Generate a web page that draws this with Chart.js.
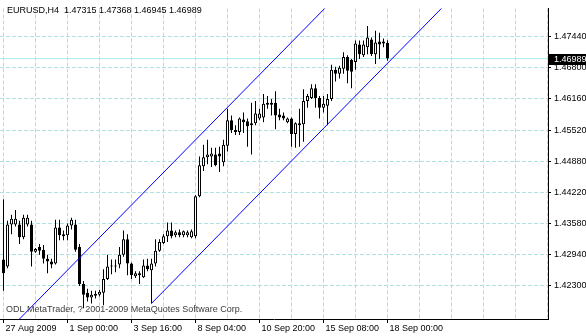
<!DOCTYPE html>
<html>
<head>
<meta charset="utf-8">
<script src="https://cdn.jsdelivr.net/npm/chart.js@4.4.0/dist/chart.umd.min.js"></script>
<style>
  html, body { margin: 0; padding: 0; background: #fff; }
  canvas { display: block; }
</style>
</head>
<body>
<canvas id="c" width="586" height="336"></canvas>
<script>
// EURUSD H4, one value per bar
const opens = [
  1.4286, 1.4272, 1.4358, 1.4358, 1.4358, 1.4332, 1.4358, 1.4358, 1.4302, 1.4312,
  1.4306, 1.4288, 1.4282, 1.4278, 1.4352, 1.4338, 1.4336, 1.4356, 1.4358, 1.4312,
  1.4236, 1.4218, 1.4208, 1.4216, 1.4214, 1.4218, 1.4246, 1.4274, 1.4272, 1.4276,
  1.4296, 1.4328, 1.4278, 1.4252, 1.4258, 1.4250, 1.4274, 1.4264, 1.4278, 1.4304,
  1.4320, 1.4334, 1.4346, 1.4336, 1.4342, 1.4336, 1.4336, 1.4332, 1.4334, 1.4416,
  1.4478, 1.4496, 1.4498, 1.4502, 1.4504, 1.4486, 1.4520, 1.4572, 1.4552, 1.4548,
  1.4574, 1.4570, 1.4566, 1.4566, 1.4576, 1.4578, 1.4604, 1.4608, 1.4608, 1.4584,
  1.4582, 1.4568, 1.4576, 1.4544, 1.4562, 1.4564, 1.4612, 1.4618, 1.4638, 1.4618,
  1.4598, 1.4602, 1.4616, 1.4676, 1.4668, 1.4678, 1.4702, 1.4696, 1.4692, 1.4728,
  1.4706, 1.4722, 1.4738, 1.4708, 1.4734, 1.4734, 1.47315
];
const highs = [
  1.4410, 1.4366, 1.4378, 1.4388, 1.4366, 1.4378, 1.4378, 1.4366, 1.4310, 1.4318,
  1.4316, 1.4296, 1.4288, 1.4368, 1.4368, 1.4346, 1.4360, 1.4372, 1.4368, 1.4318,
  1.4242, 1.4226, 1.4222, 1.4222, 1.4224, 1.4266, 1.4296, 1.4286, 1.4286, 1.4312,
  1.4346, 1.4338, 1.4280, 1.4262, 1.4262, 1.4286, 1.4288, 1.4288, 1.4328, 1.4328,
  1.4338, 1.4362, 1.4362, 1.4346, 1.4348, 1.4346, 1.4346, 1.4348, 1.4418, 1.4498,
  1.4522, 1.4532, 1.4516, 1.4516, 1.4518, 1.4532, 1.4596, 1.4582, 1.4562, 1.4578,
  1.4588, 1.4576, 1.4608, 1.4612, 1.4596, 1.4626, 1.4622, 1.4616, 1.4632, 1.4596,
  1.4588, 1.4578, 1.4578, 1.4568, 1.4596, 1.4636, 1.4626, 1.4646, 1.4646, 1.4622,
  1.4622, 1.4626, 1.4686, 1.4682, 1.4684, 1.4712, 1.4706, 1.4698, 1.4736, 1.4736,
  1.4736, 1.4766, 1.4742, 1.4756, 1.4752, 1.4740, 1.47368
];
const lows = [
  1.4222, 1.4268, 1.4338, 1.4354, 1.4318, 1.4328, 1.4354, 1.4272, 1.4300, 1.4296,
  1.4278, 1.4258, 1.4268, 1.4276, 1.4326, 1.4326, 1.4326, 1.4348, 1.4302, 1.4232,
  1.4186, 1.4200, 1.4196, 1.4206, 1.4210, 1.4192, 1.4244, 1.4256, 1.4260, 1.4268,
  1.4292, 1.4254, 1.4246, 1.4248, 1.4236, 1.4248, 1.4262, 1.4196, 1.4272, 1.4302,
  1.4318, 1.4322, 1.4330, 1.4332, 1.4332, 1.4332, 1.4332, 1.4330, 1.4330, 1.4414,
  1.4468, 1.4482, 1.4476, 1.4478, 1.4466, 1.4478, 1.4508, 1.4546, 1.4542, 1.4542,
  1.4546, 1.4518, 1.4502, 1.4562, 1.4572, 1.4568, 1.4596, 1.4582, 1.4554, 1.4572,
  1.4572, 1.4566, 1.4518, 1.4516, 1.4518, 1.4528, 1.4598, 1.4616, 1.4598, 1.4576,
  1.4588, 1.4562, 1.4612, 1.4652, 1.4658, 1.4668, 1.4648, 1.4638, 1.4676, 1.4698,
  1.4702, 1.4708, 1.4704, 1.4688, 1.4698, 1.4722, 1.46945
];
const closes = [
  1.4258, 1.4358, 1.4370, 1.4370, 1.4332, 1.4372, 1.4372, 1.4302, 1.4308, 1.4304,
  1.4288, 1.4282, 1.4276, 1.4352, 1.4336, 1.4334, 1.4356, 1.4368, 1.4306, 1.4236,
  1.4214, 1.4208, 1.4214, 1.4212, 1.4220, 1.4246, 1.4272, 1.4272, 1.4274, 1.4296,
  1.4328, 1.4278, 1.4254, 1.4258, 1.4254, 1.4274, 1.4266, 1.4278, 1.4304, 1.4322,
  1.4334, 1.4346, 1.4334, 1.4342, 1.4336, 1.4344, 1.4342, 1.4344, 1.4416, 1.4480,
  1.4496, 1.4502, 1.4504, 1.4480, 1.4498, 1.4522, 1.4572, 1.4552, 1.4548, 1.4576,
  1.4568, 1.4560, 1.4562, 1.4586, 1.4586, 1.4606, 1.4608, 1.4604, 1.4582, 1.4578,
  1.4576, 1.4576, 1.4544, 1.4566, 1.4566, 1.4612, 1.4622, 1.4638, 1.4618, 1.4598,
  1.4606, 1.4616, 1.4676, 1.4668, 1.4680, 1.4702, 1.4674, 1.4672, 1.4730, 1.4708,
  1.4728, 1.4742, 1.4708, 1.4732, 1.4728, 1.4730, 1.46989
];

const dateLabels = ['27 Aug 2009', '1 Sep 00:00', '3 Sep 16:00', '8 Sep 04:00',
  '10 Sep 20:00', '15 Sep 08:00', '18 Sep 00:00'];
const priceTicks = [1.4744, 1.4680, 1.4616, 1.4552, 1.4488, 1.4424, 1.4360, 1.4296, 1.4232];
const priceLabels = ['1.47440', '1.46800', '1.46160', '1.45520', '1.44880',
  '1.44220', '1.43580', '1.42940', '1.42300'];

// equidistant channel (bar index, price)
const lowerChannel = [{x: 37, y: 1.4196}, {x: 140, y: 1.5057}];
const upperChannel = [{x: -10, y: 1.4047}, {x: 140, y: 1.5301}];

const symbol = 'EURUSD,H4';
const copyright = 'ODL MetaTrader, ? 2001-2009 MetaQuotes Software Corp.';

const FONT = '"Liberation Sans", Arial, sans-serif';
const gridColor = '#b0e0e0';
const last = closes.length - 1;

const wicks = closes.map((c, i) => ({x: i, y: [lows[i], highs[i]]}));
const bodies = closes.map((c, i) => ({x: i, y: [opens[i], c]}));
const bodyFill = closes.map((c, i) => c >= opens[i] ? '#ffffff' : '#000000');
const gridBars = [];
for (let b = 0; b <= 136; b += 8) gridBars.push(b);

const overlay = {
  id: 'overlay',
  afterDraw(chart) {
    const {ctx, chartArea, scales} = chart;
    ctx.save();
    ctx.font = '9px ' + FONT;
    ctx.textBaseline = 'middle';
    ctx.fillStyle = '#000';
    let head = symbol + '  ' + [opens[last], highs[last], lows[last], closes[last]]
      .map(v => v.toFixed(5)).join(' ');
    ctx.fillText(head, 7, 11);
    ctx.fillStyle = '#3c3c3c';
    ctx.fillText(copyright, 6, 310);

    let py = Math.round(scales.y.getPixelForValue(closes[last]));
    ctx.fillStyle = '#000';
    ctx.fillRect(chartArea.right + 1, py - 5, 40, 11);
    ctx.fillStyle = '#fff';
    ctx.fillText(closes[last].toFixed(5), chartArea.right + 6, py + 0.5);
    ctx.restore();
  }
};

new Chart(document.getElementById('c'), {
  type: 'bar',
  data: {
    datasets: [
      {
        type: 'line', data: upperChannel, borderColor: '#0000ff', borderWidth: 1,
        pointRadius: 0, fill: false, order: 0
      },
      {
        type: 'line', data: lowerChannel, borderColor: '#0000ff', borderWidth: 1,
        pointRadius: 0, fill: false, order: 0
      },
      {
        type: 'bar', data: bodies, barThickness: 3, backgroundColor: bodyFill,
        borderColor: '#000', borderWidth: 1, borderSkipped: false, minBarLength: 1,
        inflateAmount: 0, grouped: false, order: 1
      },
      {
        type: 'bar', data: wicks, barThickness: 1, backgroundColor: '#000',
        borderWidth: 0, inflateAmount: 0, grouped: false, order: 2
      },
      {
        type: 'line', data: [{x: -1, y: closes[last]}, {x: 140, y: closes[last]}],
        borderColor: '#a8ecec', borderWidth: 1, pointRadius: 0, fill: false, order: 3
      }
    ]
  },
  options: {
    responsive: false,
    animation: false,
    layout: {padding: 0},
    plugins: {legend: {display: false}, tooltip: {enabled: false}},
    scales: {
      x: {
        type: 'linear',
        min: -0.875,
        max: 136.125,
        offset: false,
        afterBuildTicks: s => { s.ticks = gridBars.map(v => ({value: v})); },
        afterFit: s => { s.height = 17; },
        grid: {
          offset: false,
          color: gridColor,
          lineWidth: 1,
          tickLength: 4,
          tickColor: c => (c.index % 2 === 0 && c.index / 2 < dateLabels.length) ? '#000' : 'rgba(0,0,0,0)'
        },
        border: {color: '#000', width: 1, dash: [4, 2]},
        ticks: {
          autoSkip: false,
          maxRotation: 0,
          align: 'start',
          labelOffset: 2,
          padding: 0,
          color: '#000',
          font: {family: FONT, size: 9},
          callback: (v, i) => (i % 2 === 0 && dateLabels[i / 2]) ? dateLabels[i / 2] : ''
        }
      },
      y: {
        position: 'right',
        min: 1.4164,
        max: 1.4802,
        afterBuildTicks: s => { s.ticks = priceTicks.map(v => ({value: v})); },
        afterFit: s => { s.width = 38; },
        grid: {color: gridColor, lineWidth: 1, tickLength: 3, tickColor: '#000'},
        border: {color: '#000', width: 1, dash: [4, 2]},
        ticks: {
          padding: 3,
          color: '#000',
          font: {family: FONT, size: 9},
          callback: (v, i) => priceLabels[i]
        }
      }
    }
  },
  plugins: [overlay]
});
</script>
</body>
</html>
